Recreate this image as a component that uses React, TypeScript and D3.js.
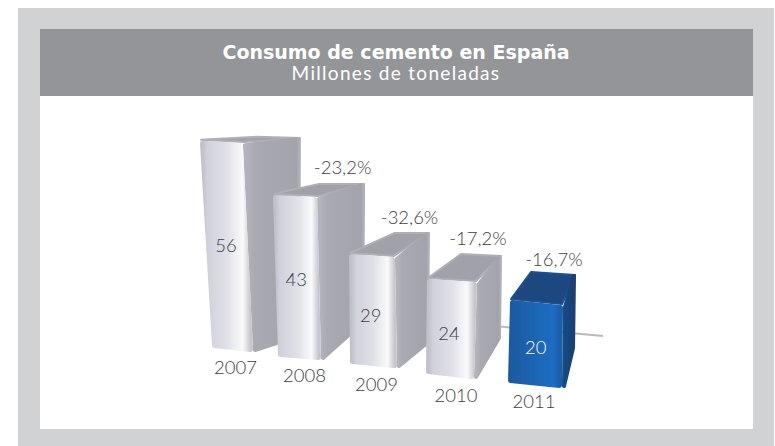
import * as d3 from "d3"

const years = ["2007", "2008", "2009", "2010", "2011"]
const consumption = [56, 43, 29, 24, 20]
const changes = ["", "-23,2%", "-32,6%", "-17,2%", "-16,7%"]

const width = 775
const height = 446
const font = "Lato, 'Open Sans', sans-serif"

type Pt = [number, number]

// the picture is a perspective view, so every bar gets its own scale readings
const idx = d3.range(years.length)
const s = (r: number[]) => d3.scaleLinear<number>().domain(idx).range(r)

const baseLeftX = s([212, 278, 350, 426, 508])
const baseLeftY = s([348, 357, 364, 374, 383])
const baseRightX = s([253, 321, 397, 474, 562])
const baseRightY = s([352, 360, 368, 379, 388])
const unitLeft = s([3.7, 3.77, 3.79, 3.96, 4.15])
const unitRight = s([3.73, 3.79, 3.83, 4.04, 4.15])
const leanLeft = s([-0.214, -0.116, -0.03, 0.04, 0.1])
const leanRight = s([-0.18, -0.09, -0.07, 0.125, 0.05])
const depthX = s([58, 48, 35, 25, 13])
const depthY = s([-6, -14, -25, -27, -31])
const backLeftX = s([58, 47, 46, 33, 20])
const backLeftY = s([-5, -12, -22, -26, -29])
const backBottomY = s([-14, -35, -23, -39, -38])

// small nudges for the labels
const valueDx = s([-1, -1, -2, -2, 0])
const valueDy = s([6, 9, 11, 11, 10])
const yearDx = s([3, 5, 3, 6, -1])
const yearDy = s([24, 23, 25, 25, 22])
const changeDx = s([0, -3, -4, -2, 4])
const changeDy = s([-8, -9, -8, -8, -5])

const outline = d3
  .line<Pt>()
  .x((d) => d[0])
  .y((d) => d[1])
  .curve(d3.curveLinearClosed)

// pull a polygon in, the stroke gives it back with rounded corners
function inset(pts: Pt[], by: number): Pt[] {
  const cx = d3.mean(pts, (p) => p[0]) ?? 0
  const cy = d3.mean(pts, (p) => p[1]) ?? 0
  return pts.map((p) => [p[0] + Math.sign(cx - p[0]) * by, p[1] + Math.sign(cy - p[1]) * by] as Pt)
}

function barShape(i: number) {
  const v = consumption[i]
  const bl: Pt = [baseLeftX(i), baseLeftY(i)]
  const br: Pt = [baseRightX(i), baseRightY(i)]
  const tl: Pt = [bl[0] + leanLeft(i) * v, bl[1] - unitLeft(i) * v]
  const tr: Pt = [br[0] + leanRight(i) * v, br[1] - unitRight(i) * v]
  const tbr: Pt = [tr[0] + depthX(i), tr[1] + depthY(i)]
  const tbl: Pt = [tl[0] + backLeftX(i), tl[1] + backLeftY(i)]
  const bbr: Pt = [tbr[0] - 1, br[1] + backBottomY(i)]
  return { bl, br, tl, tr, tbr, tbl, bbr }
}

function Bar({ i }: { i: number }) {
  const { bl, br, tl, tr, tbr, tbl, bbr } = barShape(i)
  const blue = i === years.length - 1
  const front = blue ? "url(#frontBlue)" : "url(#front)"
  const side = blue ? "url(#sideBlue)" : "url(#side)"
  const top = blue ? "#1b477f" : "#a0a1a9"
  const rim = blue ? "#214f8c" : "#afb0b7"
  return (
    <g strokeLinejoin="round" filter="url(#soft)">
      <path d={outline(inset([tl, tbl, tbr, tr], 1)) ?? ""} fill={top} stroke={rim} strokeWidth={2} />
      <path d={outline(inset([tr, tbr, bbr, br], 2)) ?? ""} fill={side} stroke={side} strokeWidth={4} />
      <path d={outline(inset([tl, tr, br, bl], 2.5)) ?? ""} fill={front} stroke={front} strokeWidth={5} />
    </g>
  )
}

export default function App() {
  return (
    <svg
      width={width}
      height={height}
      viewBox={`0 0 ${width} ${height}`}
      style={{ position: "absolute", left: 0, top: 0, background: "#fff" }}
    >
      <defs>
        <linearGradient id="front" x1="0" x2="1" y1="0" y2="0">
          <stop offset="0" stopColor="#c0c1c9" />
          <stop offset="0.1" stopColor="#d0d1da" />
          <stop offset="0.5" stopColor="#dfe0e8" />
          <stop offset="0.84" stopColor="#fafafc" />
          <stop offset="1" stopColor="#c6c7cd" />
        </linearGradient>
        <linearGradient id="side" x1="0" x2="1" y1="0" y2="0">
          <stop offset="0" stopColor="#b4b5bc" />
          <stop offset="0.2" stopColor="#a8a9b1" />
          <stop offset="0.96" stopColor="#a2a3ab" />
          <stop offset="1" stopColor="#b0b1b8" />
        </linearGradient>
        <linearGradient id="frontBlue" x1="0" x2="1" y1="0" y2="0">
          <stop offset="0" stopColor="#1d5aa0" />
          <stop offset="0.85" stopColor="#1f6dc4" />
          <stop offset="1" stopColor="#1c5ea8" />
        </linearGradient>
        <linearGradient id="sideBlue" x1="0" x2="1" y1="0" y2="0">
          <stop offset="0" stopColor="#174a86" />
          <stop offset="1" stopColor="#1a3f72" />
        </linearGradient>
        <filter id="soft" x="-10%" y="-10%" width="120%" height="120%">
          <feGaussianBlur stdDeviation="0.7" />
        </filter>
      </defs>

      <rect x={18} y={8} width={756} height={438} fill="#d1d2d4" />
      <rect x={40} y={29} width={713} height={400} fill="#ffffff" />
      <rect x={40} y={29} width={713} height={67} fill="#939598" />

      <g textAnchor="middle" fill="#ffffff">
        <text x={396} y={59} fontSize={19} fontWeight={700} fontFamily="'DejaVu Sans', sans-serif">
          Consumo de cemento en España
        </text>
        <text x={396} y={80} fontSize={19} fontWeight={400} letterSpacing={1.3} fontFamily={font}>
          Millones de toneladas
        </text>
      </g>

      <line x1={495} y1={326} x2={603} y2={336} stroke="#b9babc" strokeWidth={2} />

      {idx.map((i) => (
        <Bar key={years[i]} i={i} />
      ))}

      <g fontFamily={font} fontWeight={300} fontSize={18.5} textAnchor="middle" fill="#414042">
        {idx.map((i) => {
          const { bl, br, tl, tr, tbl, tbr } = barShape(i)
          const cx = (bl[0] + br[0] + tl[0] + tr[0]) / 4
          const cy = (bl[1] + br[1] + tl[1] + tr[1]) / 4
          return (
            <g key={years[i]}>
              <text x={cx + valueDx(i)} y={cy + valueDy(i)} fill={i === years.length - 1 ? "#ffffff" : "#414042"}>
                {consumption[i]}
              </text>
              <text x={(bl[0] + br[0]) / 2 + yearDx(i)} y={(bl[1] + br[1]) / 2 + yearDy(i)}>
                {years[i]}
              </text>
              {changes[i] && (
                <text
                  x={(tbl[0] + tbr[0]) / 2 + 5 - i * 2 + changeDx(i)}
                  y={Math.min(tbl[1], tbr[1]) + changeDy(i)}
                >
                  {changes[i]}
                </text>
              )}
            </g>
          )
        })}
      </g>
    </svg>
  )
}
